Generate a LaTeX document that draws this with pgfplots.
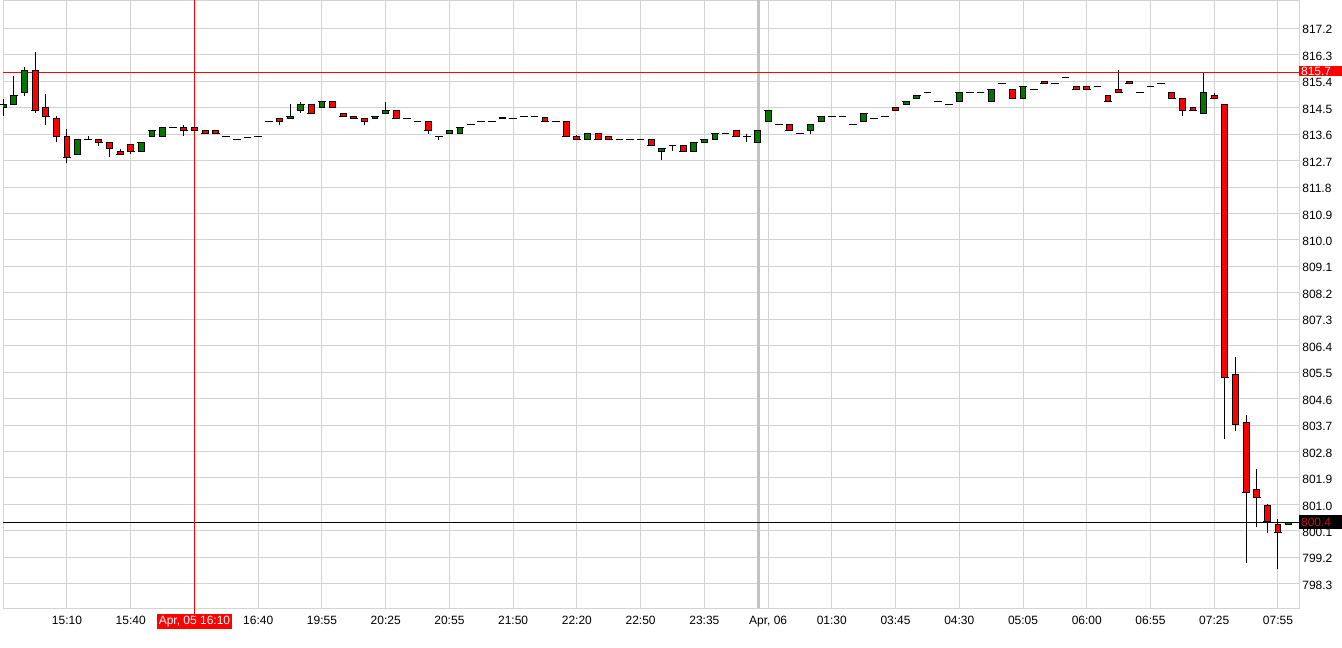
\documentclass[border=0pt]{standalone}
\usepackage{fontspec}
\setmainfont{Liberation Sans}
\usepackage{pgfplots}
\usepackage{pgfplotstable}
\pgfplotsset{compat=1.18}
\definecolor{cgreen}{RGB}{0,120,0}
\definecolor{cred}{RGB}{255,0,0}
\definecolor{gridc}{RGB}{211,211,211}
\definecolor{lastred}{RGB}{190,25,25}
\pgfplotstableread{
i o h l c
0 814.50 814.81 814.20 814.60
1 814.60 815.59 814.60 814.91
2 815.01 815.88 814.89 815.77
3 815.77 816.39 814.33 814.40
4 814.50 814.98 813.92 814.20
5 814.13 814.20 813.32 813.51
6 813.52 813.79 812.62 812.81
7 812.90 813.43 812.90 813.43
8 813.43 813.52 813.43 813.43
9 813.43 813.43 813.21 813.32
10 813.32 813.32 812.83 813.12
11 813.01 813.11 812.90 812.90
12 813.23 813.23 812.94 813.01
13 813.01 813.32 813.01 813.32
14 813.52 813.72 813.52 813.72
15 813.52 813.83 813.52 813.83
16 813.83 813.83 813.83 813.83
17 813.83 813.92 813.52 813.72
18 813.83 813.83 813.72 813.72
19 813.72 813.72 813.62 813.62
20 813.72 813.72 813.62 813.62
21 813.52 813.52 813.52 813.52
22 813.43 813.43 813.43 813.43
23 813.50 813.50 813.50 813.50
24 813.52 813.52 813.52 813.52
25 814.03 814.03 814.03 814.03
26 814.13 814.13 813.92 814.02
27 814.13 814.61 814.13 814.20
28 814.40 814.70 814.33 814.60
29 814.60 814.60 814.30 814.30
30 814.50 814.70 814.50 814.70
31 814.70 814.70 814.50 814.50
32 814.30 814.30 814.20 814.20
33 814.20 814.20 814.13 814.13
34 814.13 814.13 813.92 814.02
35 814.13 814.20 814.13 814.20
36 814.30 814.70 814.30 814.40
37 814.40 814.40 814.13 814.13
38 814.13 814.13 814.13 814.13
39 814.03 814.03 814.03 814.03
40 814.03 814.03 813.62 813.72
41 813.52 813.52 813.41 813.52
42 813.62 813.72 813.62 813.72
43 813.62 813.83 813.62 813.83
44 813.94 813.94 813.94 813.94
45 814.03 814.03 814.03 814.03
46 814.03 814.03 814.03 814.03
47 814.13 814.18 814.13 814.18
48 814.13 814.13 814.13 814.13
49 814.20 814.20 814.20 814.20
50 814.20 814.20 814.20 814.20
51 814.18 814.18 814.03 814.03
52 814.03 814.03 814.03 814.03
53 814.03 814.03 813.52 813.52
54 813.52 813.58 813.42 813.42
55 813.42 813.62 813.42 813.62
56 813.62 813.62 813.42 813.42
57 813.52 813.52 813.42 813.42
58 813.42 813.42 813.42 813.42
59 813.42 813.42 813.42 813.42
60 813.42 813.42 813.42 813.42
61 813.42 813.42 813.22 813.22
62 813.02 813.12 812.72 813.12
63 813.22 813.22 813.02 813.22
64 813.22 813.22 813.02 813.02
65 813.02 813.32 813.02 813.32
66 813.32 813.42 813.32 813.42
67 813.42 813.62 813.42 813.62
68 813.62 813.62 813.62 813.62
69 813.72 813.72 813.52 813.52
70 813.52 813.62 813.32 813.52
71 813.32 813.72 813.32 813.72
72 814.03 814.40 814.03 814.40
73 813.93 813.93 813.93 813.93
74 813.93 813.93 813.72 813.72
75 813.62 813.62 813.62 813.62
76 813.72 813.93 813.62 813.93
77 814.03 814.20 814.03 814.20
78 814.20 814.20 814.20 814.20
79 814.20 814.20 814.20 814.20
80 813.93 813.93 813.93 813.93
81 814.03 814.30 814.03 814.30
82 814.13 814.13 814.13 814.13
83 814.20 814.20 814.20 814.20
84 814.50 814.50 814.40 814.40
85 814.60 814.70 814.60 814.70
86 814.80 814.90 814.80 814.90
87 815.00 815.00 815.00 815.00
88 814.70 814.70 814.70 814.70
89 814.60 814.60 814.60 814.60
90 814.70 815.00 814.70 815.00
91 815.00 815.00 815.00 815.00
92 815.00 815.00 815.00 815.00
93 814.70 815.11 814.70 815.11
94 815.32 815.32 815.32 815.32
95 815.11 815.11 814.80 814.80
96 814.80 815.21 814.80 815.21
97 815.11 815.11 815.11 815.11
98 815.40 815.40 815.31 815.31
99 815.31 815.31 815.31 815.31
100 815.51 815.51 815.51 815.51
101 815.21 815.21 815.11 815.11
102 815.21 815.21 815.11 815.11
103 815.21 815.21 815.21 815.21
104 814.90 814.90 814.70 814.70
105 815.11 815.79 815.01 815.01
106 815.40 815.40 815.31 815.31
107 815.01 815.01 815.01 815.01
108 815.21 815.21 815.21 815.21
109 815.31 815.31 815.31 815.31
110 815.01 815.01 814.80 814.80
111 814.80 814.80 814.22 814.39
112 814.50 814.50 814.40 814.40
113 814.30 815.70 814.30 815.01
114 814.90 815.01 814.80 814.80
115 814.60 814.60 803.23 805.31
116 805.41 806.01 803.51 803.71
117 803.80 804.03 799.02 801.40
118 801.50 802.19 800.23 801.23
119 800.95 801.02 800.04 800.41
120 800.32 800.49 798.79 800.03
121 800.32 800.40 800.32 800.40
}\candles
\begin{document}
\begin{tikzpicture}
\path[use as bounding box] (0pt,0pt) rectangle (1006.5pt,-485.25pt);
\pgfplotsset{base/.style={scale only axis, width=972pt, height=456pt,
  at={(2.25pt,0pt)}, anchor=north west,
  xmin=-0.0245, xmax=121.98, ymin=797.476, ymax=818.163}}
\begin{axis}[base,
  axis line style={draw=gridc, line width=0.75pt},
  grid=major, grid style={draw=gridc, line width=0.75pt},
  major tick length=0pt,
  xtick={6,12,...,120},
  xticklabels={15:10,15:40,{{\setlength{\fboxsep}{1.6pt}\colorbox{cred}{\color{white}Apr, 05 16:10}}},16:40,19:55,20:25,20:55,21:50,22:20,22:50,23:35,{Apr, 06},01:30,03:45,04:30,05:05,06:00,06:55,07:25,07:55},
  xticklabel style={anchor=base, inner sep=0pt, yshift=-12.6pt},
  ytick={798.3,799.2,800.1,801.0,801.9,802.8,803.7,804.6,805.5,806.4,807.3,808.2,809.1,810.0,810.9,811.8,812.7,813.6,814.5,815.4,816.3,817.2},
  yticklabel pos=right,
  yticklabel={\pgfmathprintnumber[fixed,fixed zerofill,precision=1,assume math mode=true]{\tick}},
  yticklabel style={anchor=west, inner sep=0pt, xshift=2.3pt, yshift=-1.1pt},
  tick label style={font=\fontsize{9pt}{10pt}\selectfont, text=black},
  /pgf/number format/assume math mode=true,
]
\addplot[draw={rgb,255:red,195;green,195;blue,195}, line width=2.2pt, mark=none] coordinates {(71.1,797.476) (71.1,818.163)};
\addplot[draw=none, mark=none, forget plot,
  error bars/.cd, y dir=plus, y explicit, error mark=none,
  error bar style={draw=black, line width=0.75pt}]
  table[x=i, y=l, y error expr=\thisrow{h}-\thisrow{l}] {\candles};
\addplot[only marks, mark=-, mark size=2.9pt, mark options={draw=black, line width=0.75pt}]
  table[x=i, y=c] {\candles};
\end{axis}
\begin{axis}[base, ybar stacked, bar width=4.4pt, axis lines=none, ticks=none, clip mode=individual]
\addplot[draw=none, fill=none] table[x=i, y expr={min(\thisrow{o},\thisrow{c})}] {\candles};
\addplot[fill=cgreen, draw=black, line width=0.75pt] table[x=i, y expr={max(\thisrow{c}-\thisrow{o},0)}] {\candles};
\addplot[fill=cred, draw=black, line width=0.75pt] table[x=i, y expr={max(\thisrow{o}-\thisrow{c},0)}] {\candles};
\draw[cred, line width=0.75pt] (axis cs:18,797.2) -- (axis cs:18,818.163);
\draw[cred, line width=0.75pt] (axis cs:-0.0245,815.7) -- (axis cs:121.98,815.7);
\draw[black, line width=0.75pt] (axis cs:-0.0245,800.4) -- (axis cs:121.98,800.4);
\node[anchor=west, fill=cred, text=white, inner xsep=1.4pt, inner ysep=0pt, minimum height=8pt, text width=29.5pt, font=\fontsize{9pt}{10pt}\selectfont] at (axis cs:121.98,815.75) {815.7};
\node[anchor=west, fill=black, text=lastred, inner xsep=1.4pt, inner ysep=0pt, minimum height=10.5pt, text width=29.5pt, font=\fontsize{9pt}{10pt}\selectfont] at (axis cs:121.98,800.4) {800.4};
\end{axis}
\end{tikzpicture}
\end{document}
